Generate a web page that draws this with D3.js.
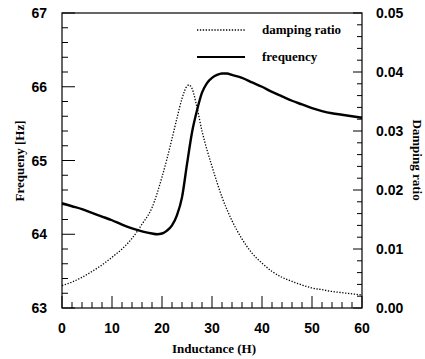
<!DOCTYPE html>
<html>
<head>
<meta charset="utf-8">
<script src="https://cdn.jsdelivr.net/npm/d3@7"></script>
<style>
  html, body { margin: 0; padding: 0; background: #fff; }
  svg { display: block; }
  .tick-label { font-family: "Liberation Sans", Arial, sans-serif; font-weight: bold; font-size: 14px; fill: #000; }
  .title { font-family: "Liberation Serif", "Times New Roman", serif; font-weight: bold; font-size: 13px; fill: #000; }
</style>
</head>
<body>
<svg id="chart"></svg>
<script>
// inductance (H) sample points and readings
const freqL = [0, 2, 4, 6, 8, 10, 12, 14, 16, 18, 19, 20, 21, 22, 23, 24, 25, 26, 27, 28, 29, 30, 31, 32, 33, 34, 36, 38, 40, 42, 44, 46, 48, 50, 52, 54, 56, 58, 60];
const frequency = [64.42, 64.38, 64.34, 64.29, 64.24, 64.19, 64.13, 64.08, 64.04, 64.01, 64.0, 64.01, 64.05, 64.12, 64.26, 64.5, 64.95, 65.38, 65.68, 65.92, 66.05, 66.12, 66.16, 66.18, 66.18, 66.16, 66.12, 66.06, 66.0, 65.93, 65.87, 65.81, 65.76, 65.71, 65.67, 65.64, 65.62, 65.60, 65.58];

const dampL = [0, 2, 4, 6, 8, 10, 12, 14, 16, 18, 20, 21, 22, 23, 24, 25, 25.4, 26, 27, 28, 29, 30, 32, 34, 36, 38, 40, 42, 44, 46, 48, 50, 52, 54, 56, 58, 60];
const damping = [0.0038, 0.0044, 0.0052, 0.0062, 0.0073, 0.0086, 0.0100, 0.0118, 0.0142, 0.0170, 0.0222, 0.0253, 0.0287, 0.0322, 0.0355, 0.0376, 0.0378, 0.0372, 0.0340, 0.0300, 0.0268, 0.0240, 0.0188, 0.0148, 0.0117, 0.0093, 0.0076, 0.0062, 0.0052, 0.0045, 0.0039, 0.0034, 0.0031, 0.0028, 0.0026, 0.0024, 0.0022];

const xTicks = [0, 10, 20, 30, 40, 50, 60];
const leftTicks = [63, 64, 65, 66, 67];
const rightTicks = [0, 0.01, 0.02, 0.03, 0.04, 0.05];
const legendLabels = ['damping ratio', 'frequency'];

const W = 425, H = 359;
const margin = { top: 13, right: 63, bottom: 51, left: 62 };
const w = W - margin.left - margin.right;
const h = H - margin.top - margin.bottom;

const svg = d3.select('#chart').attr('width', W).attr('height', H);
const g = svg.append('g').attr('transform', `translate(${margin.left},${margin.top})`);

const x = d3.scaleLinear().domain([0, 60]).range([0, w]);
const yL = d3.scaleLinear().domain([63, 67]).range([h, 0]);
const yR = d3.scaleLinear().domain([0, 0.05]).range([h, 0]);

// Frame: left, bottom, right, top
g.append('rect')
  .attr('x', 0).attr('y', 0).attr('width', w).attr('height', h)
  .attr('fill', 'none').attr('stroke', '#000').attr('stroke-width', 1.2);

// Ticks (inward)
const tickG = g.append('g').attr('stroke', '#000').attr('stroke-width', 1);

// bottom
tickG.selectAll('.xt')
  .data(d3.range(0, 61, 2))
  .join('line')
  .attr('x1', d => x(d)).attr('x2', d => x(d))
  .attr('y1', h).attr('y2', d => h - (d % 10 === 0 ? 12 : 6));

// left
tickG.selectAll('.ylt')
  .data(d3.range(0, 21).map(i => 63 + i * 0.2))
  .join('line')
  .attr('x1', 0).attr('x2', (d, i) => i % 5 === 0 ? 13 : 6)
  .attr('y1', d => yL(d)).attr('y2', d => yL(d));

// right
tickG.selectAll('.yrt')
  .data(d3.range(0, 26).map(i => i * 0.002))
  .join('line')
  .attr('x1', w).attr('x2', (d, i) => w - (i % 5 === 0 ? 9 : 5))
  .attr('y1', d => yR(d)).attr('y2', d => yR(d));

// Tick labels
g.append('g').selectAll('text')
  .data(xTicks)
  .join('text')
  .attr('class', 'tick-label')
  .attr('x', d => x(d)).attr('y', h + 25)
  .attr('text-anchor', 'middle')
  .text(d => d);

g.append('g').selectAll('text')
  .data(leftTicks)
  .join('text')
  .attr('class', 'tick-label')
  .attr('x', -15).attr('y', d => yL(d) + 5)
  .attr('text-anchor', 'end')
  .text(d => d);

g.append('g').selectAll('text')
  .data(rightTicks)
  .join('text')
  .attr('class', 'tick-label')
  .attr('x', w + 14).attr('y', d => yR(d) + 5)
  .attr('text-anchor', 'start')
  .text(d => d3.format('.2f')(d));

// Axis titles
svg.append('text')
  .attr('class', 'title')
  .attr('transform', `translate(24,${margin.top + 148}) rotate(-90)`)
  .attr('text-anchor', 'middle')
  .text('Frequeny  [Hz]');

svg.append('text')
  .attr('class', 'title')
  .attr('transform', `translate(413,${margin.top + 147}) rotate(90)`)
  .attr('text-anchor', 'middle')
  .text('Damping ratio');

svg.append('text')
  .attr('class', 'title')
  .attr('x', margin.left + x(30) + 2).attr('y', H - 6)
  .attr('text-anchor', 'middle')
  .text('Inductance (H)');

// Curves
const dampLine = d3.line()
  .x((d, i) => x(dampL[i]))
  .y(d => yR(d))
  .curve(d3.curveMonotoneX);

const freqLine = d3.line()
  .x((d, i) => x(freqL[i]))
  .y(d => yL(d))
  .curve(d3.curveMonotoneX);

g.append('path')
  .datum(damping)
  .attr('d', dampLine)
  .attr('fill', 'none')
  .attr('stroke', '#000')
  .attr('stroke-width', 1.3)
  .attr('stroke-dasharray', '1.3,1.6');

g.append('path')
  .datum(frequency)
  .attr('d', freqLine)
  .attr('fill', 'none')
  .attr('stroke', '#000')
  .attr('stroke-width', 2.4);

// Legend
const legend = svg.append('g').attr('transform', 'translate(197,30)');
const legendRow = legend.selectAll('g')
  .data(legendLabels)
  .join('g')
  .attr('transform', (d, i) => `translate(0,${i * 27})`);

legendRow.append('line')
  .attr('x1', 0).attr('x2', 48).attr('y1', 0).attr('y2', 0)
  .attr('stroke', '#000')
  .attr('stroke-width', (d, i) => i === 0 ? 1.3 : 2.2)
  .attr('stroke-dasharray', (d, i) => i === 0 ? '1.3,1.6' : null);

legendRow.append('text')
  .attr('class', 'title')
  .attr('x', 65).attr('y', 4)
  .text(d => d);
</script>
</body>
</html>
